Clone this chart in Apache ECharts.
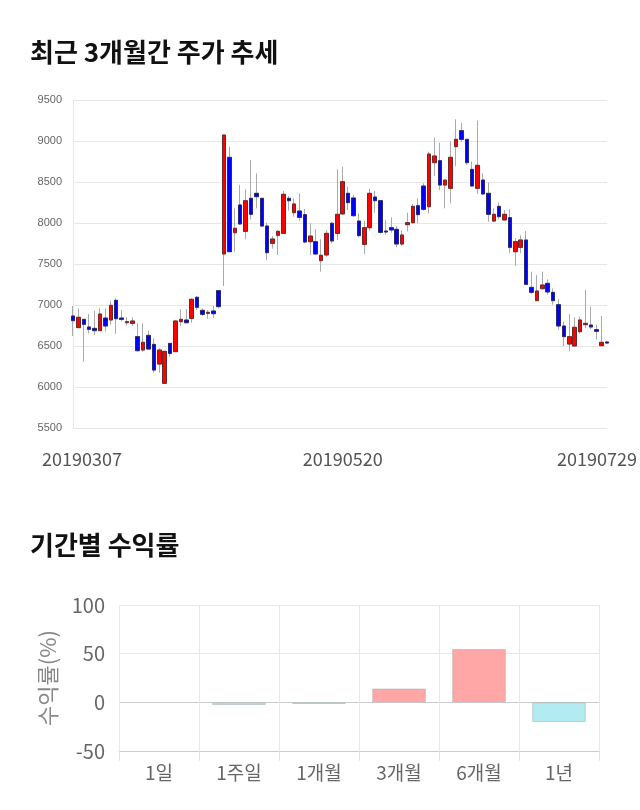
<!DOCTYPE html>
<html>
<head>
<meta charset="utf-8">
<script src="https://cdn.jsdelivr.net/npm/echarts@6/dist/echarts.min.js"></script>
<style>
html,body{margin:0;padding:0;background:#fff;}
#chart{width:640px;height:810px;}
</style>
</head>
<body>
<div id="chart"></div>
<script>
// ---- Data ----
const dates = [
 '20190307','20190308','20190311','20190312','20190313','20190314','20190315','20190318','20190319','20190320',
 '20190321','20190322','20190325','20190326','20190327','20190328','20190329',
 '20190401','20190402','20190403','20190404','20190405','20190408','20190409','20190410','20190411','20190412',
 '20190415','20190416','20190417','20190418','20190419','20190422','20190423','20190424','20190425','20190426',
 '20190429','20190430',
 '20190502','20190503','20190507','20190508','20190509','20190510','20190513','20190514','20190515','20190516',
 '20190517','20190520','20190521','20190522','20190523','20190524','20190527','20190528','20190529','20190530','20190531',
 '20190603','20190604','20190605','20190607','20190610','20190611','20190612','20190613','20190614',
 '20190617','20190618','20190619','20190620','20190621','20190624','20190625','20190626','20190627','20190628',
 '20190701','20190702','20190703','20190704','20190705','20190708','20190709','20190710','20190711','20190712',
 '20190715','20190716','20190717','20190718','20190719','20190722','20190723','20190724','20190725','20190726','20190729'
];
const opens  = [6866,6724,6825,6732,6715,6687,6841,6817,7057,6841,6784,6776,6614,6451,6630,6520,6280,6045,6532,6431,
                6797,6817,6837,7094,6935,6898,6927,7175,7622,8801,7882,8220,7898,8301,8362,8301,7963,7752,7850,7874,
                8301,8126,8146,8102,7772,7772,7541,7610,7996,7874,8110,8362,8305,8024,7740,7943,8317,8272,7902,7943,
                7923,7744,7980,8004,8211,8451,8199,8736,8760,8463,8423,8931,9126,9020,8654,8423,8524,8362,8024,8203,
                8037,8065,7650,7703,7793,7215,7053,7199,7264,7155,7004,6744,6524,6500,6675,6760,6756,6699,6504,6549];
const closes = [6809,6850,6764,6703,6687,6890,6744,6996,6833,6825,6797,6805,6443,6545,6463,6207,6451,6435,6410,6805,
                6825,6784,7069,6972,6886,6911,6894,6980,9073,7650,7935,7988,8272,8106,8321,7963,7638,7805,7898,8350,
                8272,8232,8069,7768,7841,7622,7606,7874,7781,8106,8504,8248,8089,7846,7943,8362,8272,7886,7890,7915,
                7744,7854,8004,8203,8102,8167,8841,8817,8463,8524,8801,9020,9020,8736,8451,8703,8354,8106,8106,8077,
                8106,7703,7772,7793,7252,7155,7171,7244,7159,7053,6744,6614,6614,6728,6817,6776,6732,6679,6545,6536];
const lows   = [6622,6720,6309,6655,6634,6687,6675,6760,6650,6801,6752,6744,6431,6431,6451,6174,6174,6045,6370,6431,
                6744,6776,6784,6939,6866,6833,6841,6960,7232,7650,7650,7976,7801,8045,8179,7955,7549,7687,7610,7874,
                8150,8077,8028,7752,7610,7610,7407,7589,7752,7793,8110,8159,8077,7825,7622,7906,8126,7874,7857,7882,
                7703,7720,7898,7996,7996,8150,8118,8573,8402,8179,8240,8691,8988,8707,8443,8354,8342,8016,8016,8045,
                8028,7630,7476,7630,7252,7134,7053,7191,7126,7004,6695,6500,6435,6500,6650,6720,6707,6581,6504,6530];
const highs  = [6988,6959,6830,6890,6931,6959,6959,7053,7082,6939,6850,6850,6776,6776,6687,6594,6472,6435,6532,6817,
                6947,6951,7082,7110,6959,6939,6988,7183,9073,8931,8179,8463,8411,8768,8606,8301,8004,7841,7915,8390,
                8329,8301,8362,8171,7996,7923,7801,7915,8016,8654,8687,8443,8342,8118,8024,8415,8390,8281,8037,8069,
                7963,7911,8126,8232,8301,8484,8870,9041,8980,8524,8992,9264,9224,9020,8748,9248,8606,8492,8179,8248,
                8159,8167,7813,7850,7902,7406,7366,7406,7313,7203,7069,6797,6890,6850,6858,7183,6980,6760,6866,6560];
const priceTicks = [5500, 9500, 500]; // min, max, step
const shownDateIdx = [0, 50, 99];

const periods = ['1일','1주일','1개월','3개월','6개월','1년'];
const returns = [0, -2.7, -1.7, 14.2, 54.8, -20.2];

// ---- Build ----
const full = dates.map((d,i)=>[opens[i],closes[i],lows[i],highs[i]]);
const bodies = dates.map((d,i)=>[opens[i],closes[i],Math.min(opens[i],closes[i]),Math.max(opens[i],closes[i])]);
const barData = returns.map(v => v === 0 ? {value:v, itemStyle:{borderWidth:0}} : v);
const FONT = '"Noto Sans CJK KR","Noto Sans",sans-serif';

const chart = echarts.init(document.getElementById('chart'), null, {renderer:'canvas'});
chart.setOption({
  animation:false,
  backgroundColor:'#fff',
  title:[
    {text:'최근 3개월간 주가 추세', left:25, top:34, textStyle:{fontFamily:FONT, fontSize:26, fontWeight:'bold', color:'#111'}},
    {text:'기간별 수익률', left:25, top:527, textStyle:{fontFamily:FONT, fontSize:26, fontWeight:'bold', color:'#111'}}
  ],
  grid:[
    {left:73, right:31, top:100, height:328},
    {left:119, right:41, top:605, height:146}
  ],
  xAxis:[
    {type:'category', gridIndex:0, data:dates, boundaryGap:false,
     axisLine:{show:false}, axisTick:{show:false}, splitLine:{show:false},
     axisLabel:{interval:(i)=>shownDateIdx.indexOf(i)>=0, margin:22, fontSize:18, color:'#555', fontFamily:FONT,
       formatter:(v,i)=> i===0 ? '{a|'+v+'}' : (i===dates.length-1 ? '{b|'+v+'}' : v),
       rich:{a:{fontSize:18,color:'#555',fontFamily:FONT,padding:[0,0,0,18]}, b:{fontSize:18,color:'#555',fontFamily:FONT,padding:[0,20,0,0]}}}},
    {type:'category', gridIndex:1, data:periods,
     axisLine:{onZero:false, lineStyle:{color:'#cccccc'}},
     axisTick:{show:true, length:10, lineStyle:{color:'#e3e3e3'}},
     splitLine:{show:true, lineStyle:{color:'#e8e8e8'}},
     axisLabel:{margin:12, fontSize:19, color:'#666', fontFamily:FONT}}
  ],
  yAxis:[
    {type:'value', gridIndex:0, min:priceTicks[0], max:priceTicks[1], interval:priceTicks[2],
     axisLine:{show:true, lineStyle:{color:'#e6e6e6'}}, axisTick:{show:false},
     splitLine:{lineStyle:{color:'#e6e6e6'}},
     axisLabel:{fontSize:11, color:'#666', margin:11, formatter:(v)=>String(v)}},
    {type:'value', gridIndex:1, min:-50, max:100, interval:50,
     name:'수익률(%)', nameLocation:'middle', nameRotate:90, nameGap:60,
     nameTextStyle:{fontSize:22, color:'#888', fontFamily:FONT},
     axisLine:{show:false}, axisTick:{show:false},
     splitLine:{lineStyle:{color:['#cccccc','#cccccc','#e8e8e8','#e8e8e8']}},
     axisLabel:{fontSize:20, color:'#666', margin:14, fontFamily:FONT}}
  ],
  series:[
    {type:'candlestick', xAxisIndex:0, yAxisIndex:0, data:full, barWidth:4,
     itemStyle:{color:'#ff0000', color0:'#0000ff', borderColor:'#aaaaaa', borderColor0:'#aaaaaa', borderWidth:1}},
    {type:'candlestick', xAxisIndex:0, yAxisIndex:0, data:bodies, barWidth:4,
     itemStyle:{color:'#ff0000', color0:'#0000ff', borderColor:'#6a2a2a', borderColor0:'#2a2a6a', borderWidth:1}},
    {type:'bar', xAxisIndex:1, yAxisIndex:1, data:barData, barWidth:'67%',
     itemStyle:{color:(p)=> p.value>=0 ? '#ffa7a7' : '#b2ebf2', borderColor:'rgba(160,160,160,0.45)', borderWidth:1}}
  ]
});
</script>
</body>
</html>
